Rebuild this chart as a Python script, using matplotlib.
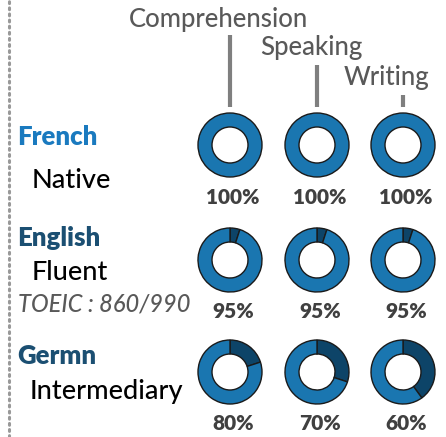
import numpy as np
import matplotlib.pyplot as plt

plt.rcParams['font.family'] = ['Lato', 'DejaVu Sans']

languages = ['French', 'English', 'Germn']
levels = ['Native', 'Fluent', 'Intermediary']
skills = ['Comprehension', 'Speaking', 'Writing']
scores = [[100, 100, 100],
          [95, 95, 95],
          [80, 70, 60]]

W, H = 446, 437
light = '#1a76b0'
dark = '#0d4468'
grey = '#7f7f7f'

fig = plt.figure(figsize=(W / 100, H / 100), dpi=100)
ax = fig.add_axes([0, 0, 1, 1])

col_x = [230, 317, 403]
row_y = [145, 260, 372]
label_dy = 51
r_out, r_in = 32, 18

def py(y):
    # pixel row -> data y
    return H - y

# dotted separator on the left
ax.plot([9, 9], [0, H], color='#999999', lw=2.2, linestyle=(0, (0.6, 1.4)),
        dash_capstyle='round')

# column headers with their ticks
head_y = [19, 48, 78]
head_x = [219, 311, 386]
line_top = [35, 65, 95]
for j, s in enumerate(skills):
    ax.text(head_x[j], py(head_y[j]), s, ha='center', va='center',
            fontsize=18.5, fontweight='medium', color='#595959')
    ax.plot([col_x[j], col_x[j]], [py(line_top[j]), py(107)], color=grey,
            lw=3, solid_capstyle='butt')

# donuts
for i in range(len(languages)):
    for j in range(len(skills)):
        v = scores[i][j]
        ax.pie([100 - v, v], colors=[dark, light], startangle=90,
               counterclock=False, center=(col_x[j], py(row_y[i])),
               radius=r_out,
               wedgeprops=dict(width=r_out - r_in, edgecolor='#1a1a1a',
                               linewidth=1.0))
        ax.text(col_x[j] + 3, py(row_y[i] + label_dy + 1), f'{v}%',
                ha='center', va='center', fontsize=15, fontweight='heavy',
                color='#404040')

# left side labels
lang_colors = ['#1a7abf', '#1b4f72', '#1b4f72']
lang_y = [137, 238, 356]
level_y = [180, 272, 392]
level_x = [32, 32, 30]
for i in range(len(languages)):
    ax.text(17, py(lang_y[i]), languages[i], ha='left', va='center',
            fontsize=18.5, fontweight='heavy', color=lang_colors[i])
    ax.text(level_x[i], py(level_y[i]), levels[i], ha='left', va='center',
            fontsize=19.5, fontweight='medium', color='black')
ax.text(18, py(304), 'TOEIC : 860/990', ha='left', va='center',
        fontsize=17, fontweight='medium', style='italic', color='#595959')

ax.set_xlim(0, W)
ax.set_ylim(0, H)
ax.set_aspect('auto')
ax.axis('off')

plt.savefig('out.png', dpi=100)
